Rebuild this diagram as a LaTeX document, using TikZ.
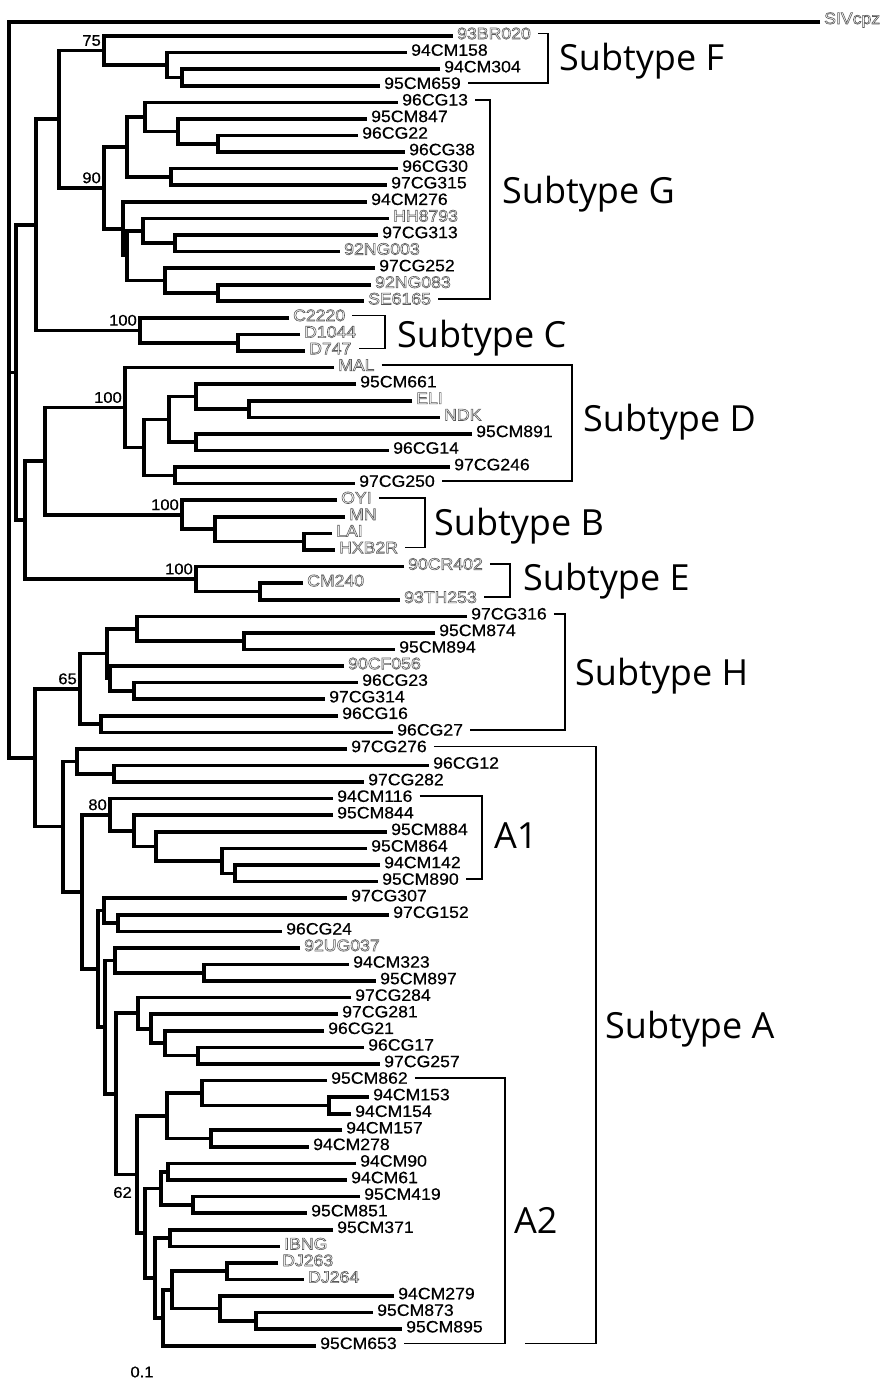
\documentclass[tikz,border=0pt]{standalone}
\usepackage{fontspec}
\usetikzlibrary{calc}
\newfontfamily\labfont[FakeStretch=1.07,FakeBold=0.5]{Liberation Sans}
\newfontfamily\olabfont[FakeStretch=1.07]{Liberation Sans}
\newfontfamily\subfont{Open Sans}
\newcommand\outltext[1]{\special{pdf:literal direct 1 Tr 0.6 w}#1\special{pdf:literal direct 0 Tr}}
\tikzset{
  br/.style={line width=3.6pt, line join=miter},
  brk/.style={line width=1.6pt},
  lab/.style={font=\labfont\fontsize{16.5}{18}\selectfont, inner sep=0pt},
  olab/.style={font=\olabfont\fontsize{16.5}{18}\selectfont, inner sep=0pt, text=black!65},
  bs/.style={font=\labfont\fontsize{15.5}{17}\selectfont, inner sep=0pt},
  sub/.style={font=\subfont\fontsize{36}{40}\selectfont, inner sep=0pt},
}
\newcommand\lf[4]{\coordinate (#1) at (#3,{36+16.58*#2});
  \node[lab,anchor=west] (L#1) at ([xshift=4pt,yshift=2.5pt]#1) {#4};}
\newcommand\lfo[4]{\coordinate (#1) at (#3,{36+16.58*#2});
  \node[olab,anchor=west] (L#1) at ([xshift=4pt,yshift=2.5pt]#1) {\outltext{#4}};}
\newcommand\nd[4]{\path let \p1=($(#3)!0.5!(#4)$) in coordinate (#1) at (#2pt,\y1);
  \draw[br] (#3) -| (#1) |- (#4);}
\newcommand\bracketmark[3]{\path let \p1=($(L#1.east)!0.5!(L#2.east)$) in coordinate (bm#1) at (#3pt,\y1);
  \draw[brk] ([xshift=7pt]L#1.east) -| (bm#1) |- ([xshift=7pt]L#2.east);}
\begin{document}
\begin{tikzpicture}[x=1pt,y=-1pt]
\useasboundingbox (0,0) rectangle (888,1387);
% leaves
\lfo{l0}{0}{453}{93BR020}
\lf{l1}{1}{407}{94CM158}
\lf{l2}{2}{440}{94CM304}
\lf{l3}{3}{380}{95CM659}
\lf{l4}{4}{398}{96CG13}
\lf{l5}{5}{367}{95CM847}
\lf{l6}{6}{358}{96CG22}
\lf{l7}{7}{405}{96CG38}
\lf{l8}{8}{398}{96CG30}
\lf{l9}{9}{387}{97CG315}
\lf{l10}{10}{367}{94CM276}
\lfo{l11}{11}{389}{HH8793}
\lf{l12}{12}{378}{97CG313}
\lfo{l13}{13}{340}{92NG003}
\lf{l14}{14}{375}{97CG252}
\lfo{l15}{15}{371}{92NG083}
\lfo{l16}{16}{364}{SE6165}
\lfo{l17}{17}{289}{C2220}
\lfo{l18}{18}{300}{D1044}
\lfo{l19}{19}{305}{D747}
\lfo{l20}{20}{334}{MAL}
\lf{l21}{21}{356}{95CM661}
\lfo{l22}{22}{412}{ELI}
\lfo{l23}{23}{440}{NDK}
\lf{l24}{24}{472}{95CM891}
\lf{l25}{25}{389}{96CG14}
\lf{l26}{26}{450}{97CG246}
\lf{l27}{27}{355}{97CG250}
\lfo{l28}{28}{337}{OYI}
\lfo{l29}{29}{345}{MN}
\lfo{l30}{30}{332}{LAI}
\lfo{l31}{31}{335}{HXB2R}
\lfo{l32}{32}{404}{90CR402}
\lfo{l33}{33}{303}{CM240}
\lfo{l34}{34}{400}{93TH253}
\lf{l35}{35}{467}{97CG316}
\lf{l36}{36}{435}{95CM874}
\lf{l37}{37}{395}{95CM894}
\lfo{l38}{38}{344}{90CF056}
\lf{l39}{39}{358}{96CG23}
\lf{l40}{40}{325}{97CG314}
\lf{l41}{41}{338}{96CG16}
\lf{l42}{42}{393}{96CG27}
\lf{l43}{43}{347}{97CG276}
\lf{l44}{44}{429}{96CG12}
\lf{l45}{45}{364}{97CG282}
\lf{l46}{46}{333}{94CM116}
\lf{l47}{47}{333}{95CM844}
\lf{l48}{48}{387}{95CM884}
\lf{l49}{49}{367}{95CM864}
\lf{l50}{50}{380}{94CM142}
\lf{l51}{51}{378}{95CM890}
\lf{l52}{52}{347}{97CG307}
\lf{l53}{53}{389}{97CG152}
\lf{l54}{54}{282}{96CG24}
\lfo{l55}{55}{300}{92UG037}
\lf{l56}{56}{349}{94CM323}
\lf{l57}{57}{376}{95CM897}
\lf{l58}{58}{351}{97CG284}
\lf{l59}{59}{338}{97CG281}
\lf{l60}{60}{324}{96CG21}
\lf{l61}{61}{364}{96CG17}
\lf{l62}{62}{380}{97CG257}
\lf{l63}{63}{327}{95CM862}
\lf{l64}{64}{369}{94CM153}
\lf{l65}{65}{351}{94CM154}
\lf{l66}{66}{342}{94CM157}
\lf{l67}{67}{309}{94CM278}
\lf{l68}{68}{356}{94CM90}
\lf{l69}{69}{347}{94CM61}
\lf{l70}{70}{360}{95CM419}
\lf{l71}{71}{307}{95CM851}
\lf{l72}{72}{333}{95CM371}
\lfo{l73}{73}{280}{IBNG}
\lfo{l74}{74}{278}{DJ263}
\lfo{l75}{75}{304}{DJ264}
\lf{l76}{76}{394}{94CM279}
\lf{l77}{77}{373}{95CM873}
\lf{l78}{78}{402}{95CM895}
\lf{l79}{79}{316}{95CM653}
% internal nodes
\nd{nF3}{182}{l2}{l3}
\nd{nF2}{167}{l1}{nF3}
\nd{nF}{104}{l0}{nF2}
\nd{nGe}{218}{l6}{l7}
\nd{nGf}{178}{l5}{nGe}
\nd{nGg}{145}{l4}{nGf}
\nd{nGh}{171}{l8}{l9}
\nd{nGi}{127}{nGg}{nGh}
\nd{nGc2}{175}{l12}{l13}
\nd{nGc}{143}{l11}{nGc2}
\nd{nGd2}{218}{l15}{l16}
\nd{nGd}{165}{l14}{nGd2}
\nd{nGb}{127}{nGc}{nGd}
\nd{nGa}{123}{l10}{nGb}
\nd{nG}{104}{nGi}{nGa}
\nd{n60}{59}{nF}{nG}
\nd{nC2}{238}{l18}{l19}
\nd{nC}{140}{l17}{nC2}
\nd{n36}{36}{n60}{nC}
\nd{nDd}{249}{l22}{l23}
\nd{nDc}{196}{l21}{nDd}
\nd{nDe}{196}{l24}{l25}
\nd{nDb}{169}{nDc}{nDe}
\nd{nDf}{175}{l26}{l27}
\nd{nDa}{144}{nDb}{nDf}
\nd{nD}{125}{l20}{nDa}
\nd{nB3}{304}{l30}{l31}
\nd{nB2}{215}{l29}{nB3}
\nd{nB}{182}{l28}{nB2}
\nd{n45}{45}{nD}{nB}
\nd{nE2}{260}{l33}{l34}
\nd{nE}{196}{l32}{nE2}
\nd{n25}{25}{n45}{nE}
\nd{n16}{16}{n36}{n25}
\nd{nHd}{244}{l36}{l37}
\nd{nHc}{137}{l35}{nHd}
\nd{nHf}{134}{l39}{l40}
\nd{nHe}{110}{l38}{nHf}
\nd{nHb}{107}{nHc}{nHe}
\nd{nHg}{101}{l41}{l42}
\nd{nH}{80}{nHb}{nHg}
\nd{nAb}{114}{l44}{l45}
\nd{nAa}{77}{l43}{nAb}
\nd{nAf}{235}{l50}{l51}
\nd{nAe}{222}{l49}{nAf}
\nd{nAd}{156}{l48}{nAe}
\nd{nAc}{134}{l47}{nAd}
\nd{nA1}{110}{l46}{nAc}
\nd{nLb}{118}{l53}{l54}
\nd{nLa}{104}{l52}{nLb}
\nd{nUb}{204}{l56}{l57}
\nd{nUa}{115}{l55}{nUb}
\nd{nMd}{198}{l61}{l62}
\nd{nMc}{165}{l60}{nMd}
\nd{nMb}{151}{l59}{nMc}
\nd{nMa}{138}{l58}{nMb}
\nd{nPc}{329}{l64}{l65}
\nd{nPb}{202}{l63}{nPc}
\nd{nPd}{211}{l66}{l67}
\nd{nPa}{167}{nPb}{nPd}
\nd{nQb}{168}{l68}{l69}
\nd{nQc}{193}{l70}{l71}
\nd{nQa}{161}{nQb}{nQc}
\nd{nRb}{170}{l72}{l73}
\nd{nDJ}{227}{l74}{l75}
\nd{nS3}{256}{l77}{l78}
\nd{nS2}{220}{l76}{nS3}
\nd{nS1}{172}{nDJ}{nS2}
\nd{nRc}{163}{nS1}{l79}
\nd{nRa}{155}{nRb}{nRc}
\nd{nQ}{145}{nQa}{nRa}
\nd{nA2}{137}{nPa}{nQ}
\nd{nM}{116}{nMa}{nA2}
\nd{nL2}{105}{nUa}{nM}
\nd{nL}{98}{nLa}{nL2}
\nd{nAx}{82}{nA1}{nL}
\nd{nA}{63}{nAa}{nAx}
\nd{n35}{35}{nH}{nA}
% root and outgroup
\coordinate (sivend) at (820,22);
\coordinate (root) at (9,22);
\draw[br] (sivend) -- (root) |- (n35);
\draw[br] (n16) -- (n16 -| root);
\node[olab,anchor=west] (Lsiv) at ([xshift=4pt,yshift=2pt]sivend) {\outltext{SIVcpz}};
% bootstrap values
\node[bs,anchor=east] (b75) at ([xshift=-3pt,yshift=10pt]nF) {75};
\node[bs,anchor=east] (b90) at ([xshift=-3pt,yshift=10pt]nG) {90};
\node[bs,anchor=east] (b100c) at ([xshift=-3pt,yshift=10pt]nC) {100};
\node[bs,anchor=east] (b100d) at ([xshift=-3pt,yshift=10pt]nD) {100};
\node[bs,anchor=east] (b100b) at ([xshift=-3pt,yshift=10pt]nB) {100};
\node[bs,anchor=east] (b100e) at ([xshift=-3pt,yshift=10pt]nE) {100};
\node[bs,anchor=east] (b65) at ([xshift=-3pt,yshift=10pt]nH) {65};
\node[bs,anchor=east] (b80) at ([xshift=-3pt,yshift=10pt]nA1) {80};
\node[bs,anchor=east] (b62) at ([xshift=-5pt,yshift=-18pt]nA2) {62};
\node[bs] (scale) at (142,1372) {0.1};
% brackets
\bracketmark{l0}{l3}{548}
\bracketmark{l4}{l16}{490}
\bracketmark{l17}{l19}{385}
\bracketmark{l20}{l27}{572}
\bracketmark{l28}{l31}{425}
\bracketmark{l32}{l34}{510}
\bracketmark{l35}{l42}{565}
\bracketmark{l46}{l51}{482}
\bracketmark{l63}{l79}{505}
\path let \p1=(Ll79.east) in coordinate (aBot) at (525pt,\y1);
\coordinate (aMid) at (596,1000);
\draw[brk] ([xshift=7pt]Ll43.east) -| (aMid) |- (aBot);
% subtype labels
\node[sub,anchor=base west] (sF) at (559,70) {Subtype F};
\node[sub,anchor=base west] (sG) at (502,203) {Subtype G};
\node[sub,anchor=base west] (sC) at (397,347) {Subtype C};
\node[sub,anchor=base west] (sD) at (583,431) {Subtype D};
\node[sub,anchor=base west] (sB) at (434,535) {Subtype B};
\node[sub,anchor=base west] (sE) at (523,590) {Subtype E};
\node[sub,anchor=base west] (sH) at (575,685) {Subtype H};
\node[sub,anchor=base west] (sA) at (605,1038) {Subtype A};
\node[sub,anchor=base west] (sA1) at (494,848) {A1};
\node[sub,anchor=base west] (sA2) at (514,1233) {A2};
\end{tikzpicture}
\end{document}
